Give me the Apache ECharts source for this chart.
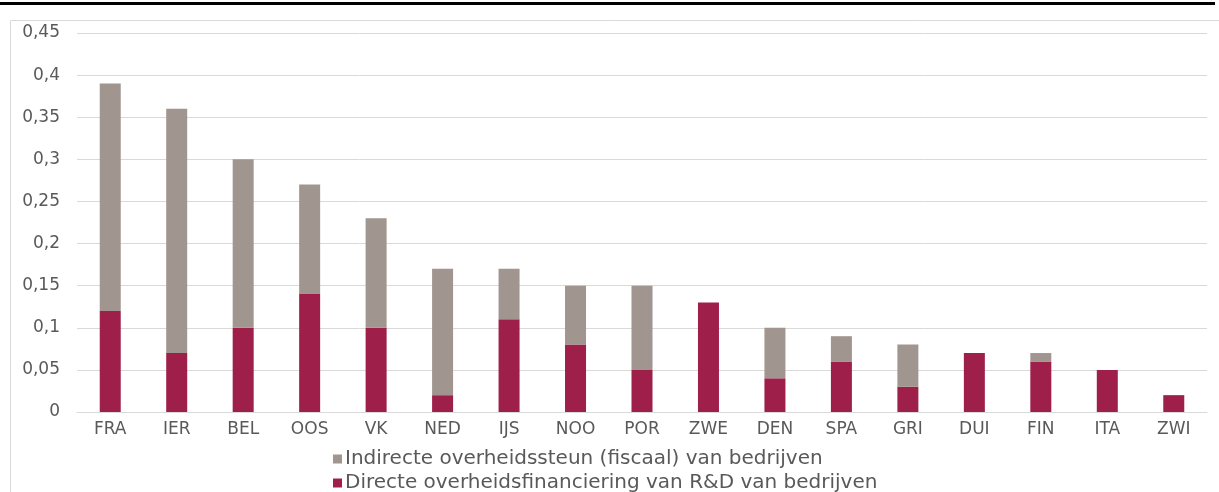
<!DOCTYPE html>
<html><head><meta charset="utf-8">
<script src="https://cdn.jsdelivr.net/npm/echarts@6/dist/echarts.min.js"></script>
<style>html,body{margin:0;padding:0;background:#fff}#c{width:1219px;height:492px}</style>
</head><body><div id="c"></div>
<script>
const categories = ["FRA","IER","BEL","OOS","VK","NED","IJS","NOO","POR","ZWE","DEN","SPA","GRI","DUI","FIN","ITA","ZWI"];
const directe = [0.12,0.07,0.10,0.14,0.10,0.02,0.11,0.08,0.05,0.13,0.04,0.06,0.03,0.07,0.06,0.05,0.02];
const indirecte = [0.27,0.29,0.20,0.13,0.13,0.15,0.06,0.07,0.10,0,0.06,0.03,0.05,0,0.01,0,0];
const yTicks = [0,0.05,0.1,0.15,0.2,0.25,0.3,0.35,0.4,0.45];
const nameIndirect = "Indirecte overheidssteun (fiscaal) van bedrijven";
const nameDirect = "Directe overheidsfinanciering van R&D van bedrijven";

const chart = echarts.init(document.getElementById('c'));
const font = "DejaVu Sans, sans-serif";
chart.setOption({
  animation:false,
  graphic:[
    {type:'rect', shape:{x:0,y:2,width:1215,height:3}, style:{fill:'#000'}},
    {type:'rect', shape:{x:10.5,y:20.5,width:1220,height:480}, style:{fill:'none',stroke:'#d9d9d9',lineWidth:1}}
  ],
  grid:{left:77,right:12,top:33,bottom:80},
  legend:{
    data:[nameIndirect,nameDirect], orient:'vertical', left:328, top:444, height:60,
    itemWidth:9, itemHeight:9, itemGap:4, icon:'rect',
    textStyle:{fontFamily:font,fontSize:20,color:'#595959',padding:[0,0,0,-2]}
  },
  xAxis:{type:'category', data:categories,
    axisLine:{lineStyle:{color:'#d9d9d9'}}, axisTick:{show:false},
    axisLabel:{fontFamily:font,fontSize:17,color:'#595959',margin:9}},
  yAxis:{type:'value', min:0, max:0.45, interval:0.05,
    axisLine:{show:false}, axisTick:{show:false},
    splitLine:{lineStyle:{color:'#d9d9d9'}},
    axisLabel:{fontFamily:font,fontSize:17,color:'#595959',margin:17,
      formatter:v=>{const t=yTicks.find(x=>Math.abs(x-v)<1e-9);return String(t!==undefined?t:v).replace('.',',');}}},
  series:[
    {name:nameDirect,type:'bar',stack:'a',data:directe,barWidth:21,itemStyle:{color:'#9E1F4A'}},
    {name:nameIndirect,type:'bar',stack:'a',data:indirecte,barWidth:21,itemStyle:{color:'#A0958F'}}
  ]
});
</script></body></html>
